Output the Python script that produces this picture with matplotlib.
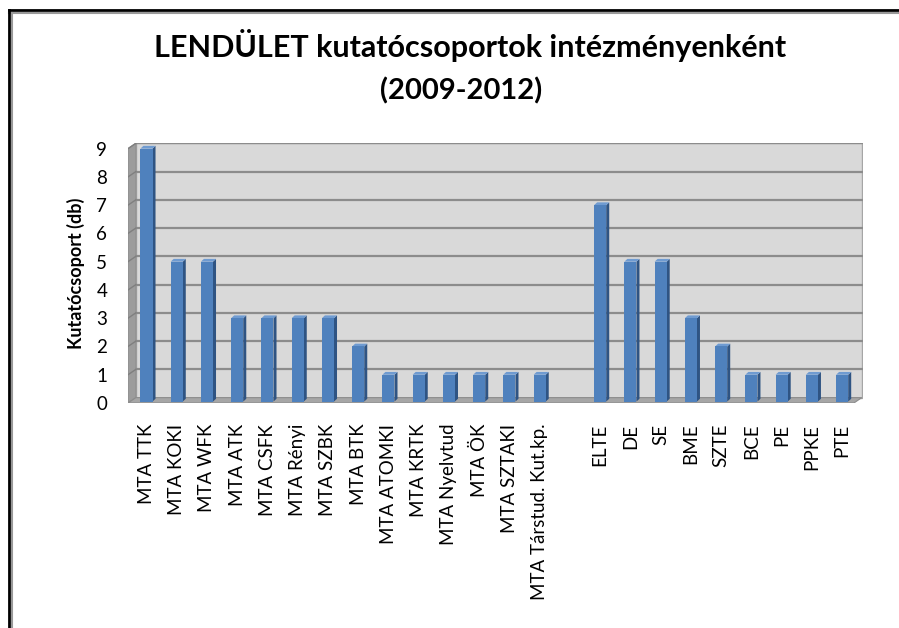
import matplotlib.pyplot as plt
import numpy as np
from matplotlib.patches import Polygon, Rectangle
from matplotlib.lines import Line2D

# data
mta_labels = ['MTA TTK', 'MTA KOKI', 'MTA WFK', 'MTA ATK', 'MTA CSFK', 'MTA Rényi',
              'MTA SZBK', 'MTA BTK', 'MTA ATOMKI', 'MTA KRTK', 'MTA Nyelvtud',
              'MTA ÖK', 'MTA SZTAKI', 'MTA Társtud. Kut.kp.']
mta_values = [9, 5, 5, 3, 3, 3, 3, 2, 1, 1, 1, 1, 1, 1]
univ_labels = ['ELTE', 'DE', 'SE', 'BME', 'SZTE', 'BCE', 'PE', 'PPKE', 'PTE']
univ_values = [7, 5, 5, 3, 2, 1, 1, 1, 1]
y_ticks = list(range(10))

labels = mta_labels + univ_labels
values = mta_values + univ_values
# one empty slot between the MTA institutes and the universities
slots = list(range(len(mta_labels))) + [len(mta_labels) + 1 + i for i in range(len(univ_labels))]
n_slots = len(mta_labels) + 1 + len(univ_labels)

plt.rcParams['font.family'] = ['Lato', 'DejaVu Sans']

fig = plt.figure(figsize=(8.99, 6.28), dpi=100)
ax = fig.add_axes([128 / 899, 225 / 628, 735 / 899, 260 / 628])
ax.set_xlim(0, n_slots + 0.3)
ax.set_ylim(0, 9.2)

# 3d depth offset of the back wall (data units)
dx, dy = 0.26, 0.19

# back wall
ax.add_patch(Rectangle((dx, dy), n_slots, 9, facecolor='#d9d9d9', edgecolor='#a6a6a6', lw=1, zorder=1))
# left wall
ax.add_patch(Polygon([(0, 0), (dx, dy), (dx, 9 + dy), (0, 9)], closed=True,
                     facecolor='#9c9c9c', edgecolor='#8c8c8c', lw=0.8, zorder=2))
# floor
ax.add_patch(Polygon([(0, 0), (n_slots, 0), (n_slots + dx, dy), (dx, dy)], closed=True,
                     facecolor='#a6a6a6', edgecolor='#8c8c8c', lw=0.8, zorder=2))
# gridlines
for v in y_ticks[1:]:
    ax.plot([dx, n_slots + dx], [v + dy, v + dy], color='#8c8c8c', lw=1.6, zorder=1.5)
    ax.plot([0, dx], [v, v + dy], color='#7f7f7f', lw=1.0, zorder=2.5)

# bars: front face, dark side face, light top face
w = 0.4
sx, sy = 0.1, 0.1
for s, v in zip(slots, values):
    c = s + 0.61
    x0, x1 = c - w / 2, c + w / 2
    b = 0.05
    ax.add_patch(Polygon([(x1, b), (x1 + sx, b + sy), (x1 + sx, v + sy), (x1, v)], closed=True,
                         facecolor='#2f5483', edgecolor='none', zorder=4))
    ax.add_patch(Polygon([(x0, v), (x1, v), (x1 + sx, v + sy), (x0 + sx, v + sy)], closed=True,
                         facecolor='#6f9bd1', edgecolor='none', zorder=4))
    ax.add_patch(Rectangle((x0, b), w, v - b, facecolor='#4f81bd', edgecolor='none', zorder=5))

ax.set_xticks([s + 0.61 for s in slots])
ax.set_xticklabels(labels, rotation=90, fontsize=13.5, color='black')
ax.set_yticks(y_ticks)
ax.set_yticklabels([str(t) for t in y_ticks], fontsize=13.5)
ax.tick_params(axis='x', length=0, pad=15)
ax.tick_params(axis='y', length=0, pad=15)
for sp in ax.spines.values():
    sp.set_visible(False)
ax.set_facecolor('none')
ax.set_ylabel('Kutatócsoport (db)', fontsize=13, fontweight='bold', labelpad=8)

fig.text(0.523, 1 - 46 / 628, 'LENDÜLET kutatócsoportok intézményenként', ha='center', va='center',
         fontsize=22, fontweight='bold')
fig.text(0.513, 1 - 91 / 628, '(2009-2012)', ha='center', va='center', fontsize=21, fontweight='bold')

# outer frame (top and left edges)
fig.add_artist(Line2D([9 / 899, 1], [1 - 10 / 628, 1 - 10 / 628], color='black', lw=2))
fig.add_artist(Line2D([9 / 899, 1], [1 - 12.5 / 628, 1 - 12.5 / 628], color='#999999', lw=1.5))
fig.add_artist(Line2D([9 / 899, 9 / 899], [0, 1 - 10 / 628], color='black', lw=2))
fig.add_artist(Line2D([11.5 / 899, 11.5 / 899], [0, 1 - 12.5 / 628], color='#999999', lw=1.5))

fig.savefig('out.png', dpi=100)
